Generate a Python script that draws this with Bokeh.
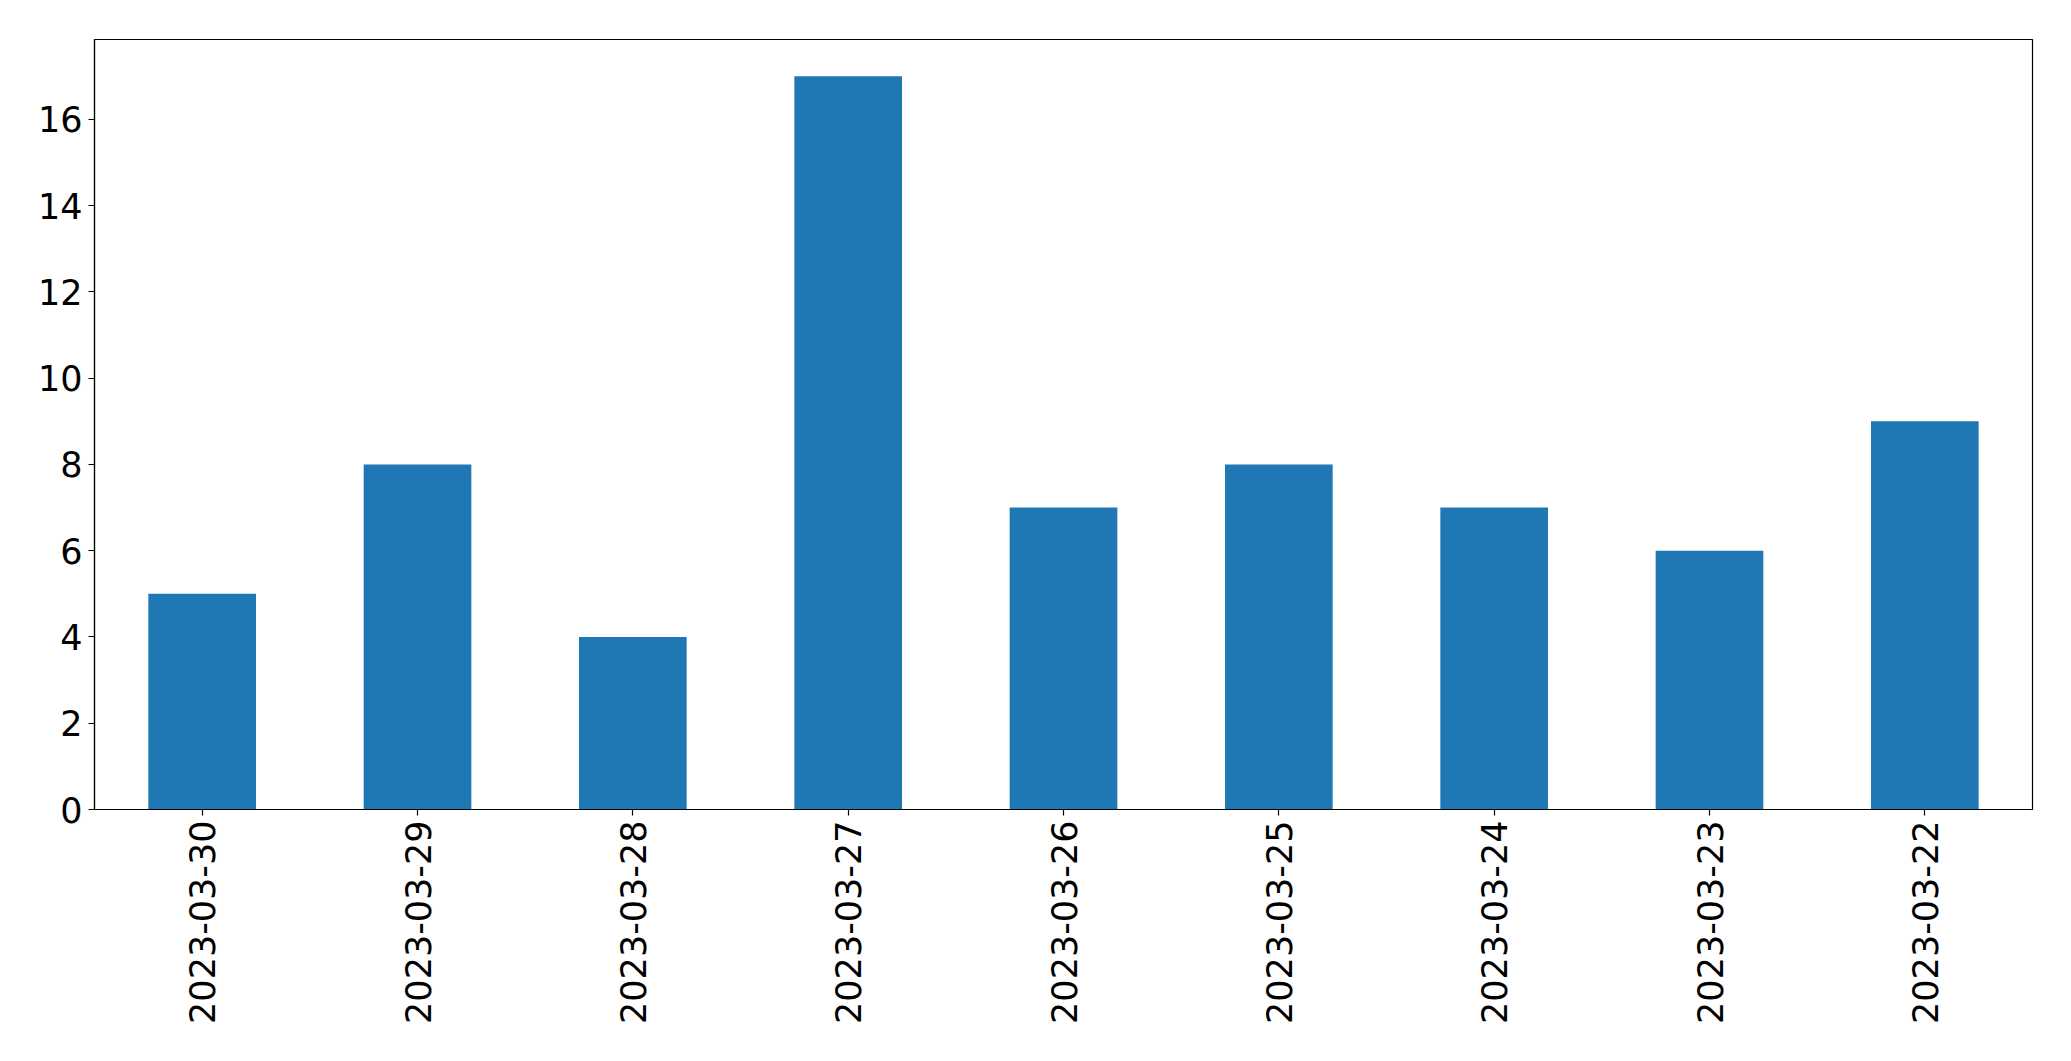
import math
from bokeh.plotting import figure
from bokeh.models import FactorRange, Range1d, FixedTicker
from bokeh.embed import file_html
from bokeh.resources import INLINE

dates = ["2023-03-30", "2023-03-29", "2023-03-28", "2023-03-27", "2023-03-26",
         "2023-03-25", "2023-03-24", "2023-03-23", "2023-03-22"]
counts = [5, 8, 4, 17, 7, 8, 7, 6, 9]
y_ticks = [0, 2, 4, 6, 8, 10, 12, 14, 16]

FONT = "DejaVu Sans"
FS = "35px"

p = figure(
    x_range=FactorRange(factors=dates, range_padding=0),
    y_range=Range1d(0, max(counts) * 1.05),
    frame_width=1938, frame_height=770,
    min_border_left=94, min_border_top=39, min_border_right=31, min_border_bottom=10,
    output_backend="svg", toolbar_location=None,
)
p.vbar(x=dates, top=counts, width=0.5, color="#1f77b4", line_color=None)

p.xgrid.visible = False
p.ygrid.visible = False
p.outline_line_color = "black"
p.outline_line_width = 1.2
p.outline_line_alpha = 1

p.yaxis.ticker = FixedTicker(ticks=y_ticks)
for ax in (p.xaxis[0], p.yaxis[0]):
    ax.major_label_text_font = FONT
    ax.major_label_text_font_size = FS
    ax.major_label_text_color = "black"
    ax.axis_line_color = "black"
    ax.axis_line_width = 1.2
    ax.major_tick_line_color = "black"
    ax.major_tick_line_width = 1.2
    ax.major_tick_in = 0
    ax.major_tick_out = 6
    ax.minor_tick_line_color = None
p.xaxis.major_label_orientation = math.pi / 2
p.xaxis.major_label_standoff = 5
p.yaxis.major_label_standoff = 6

open("out.html", "w").write(file_html(p, INLINE))
